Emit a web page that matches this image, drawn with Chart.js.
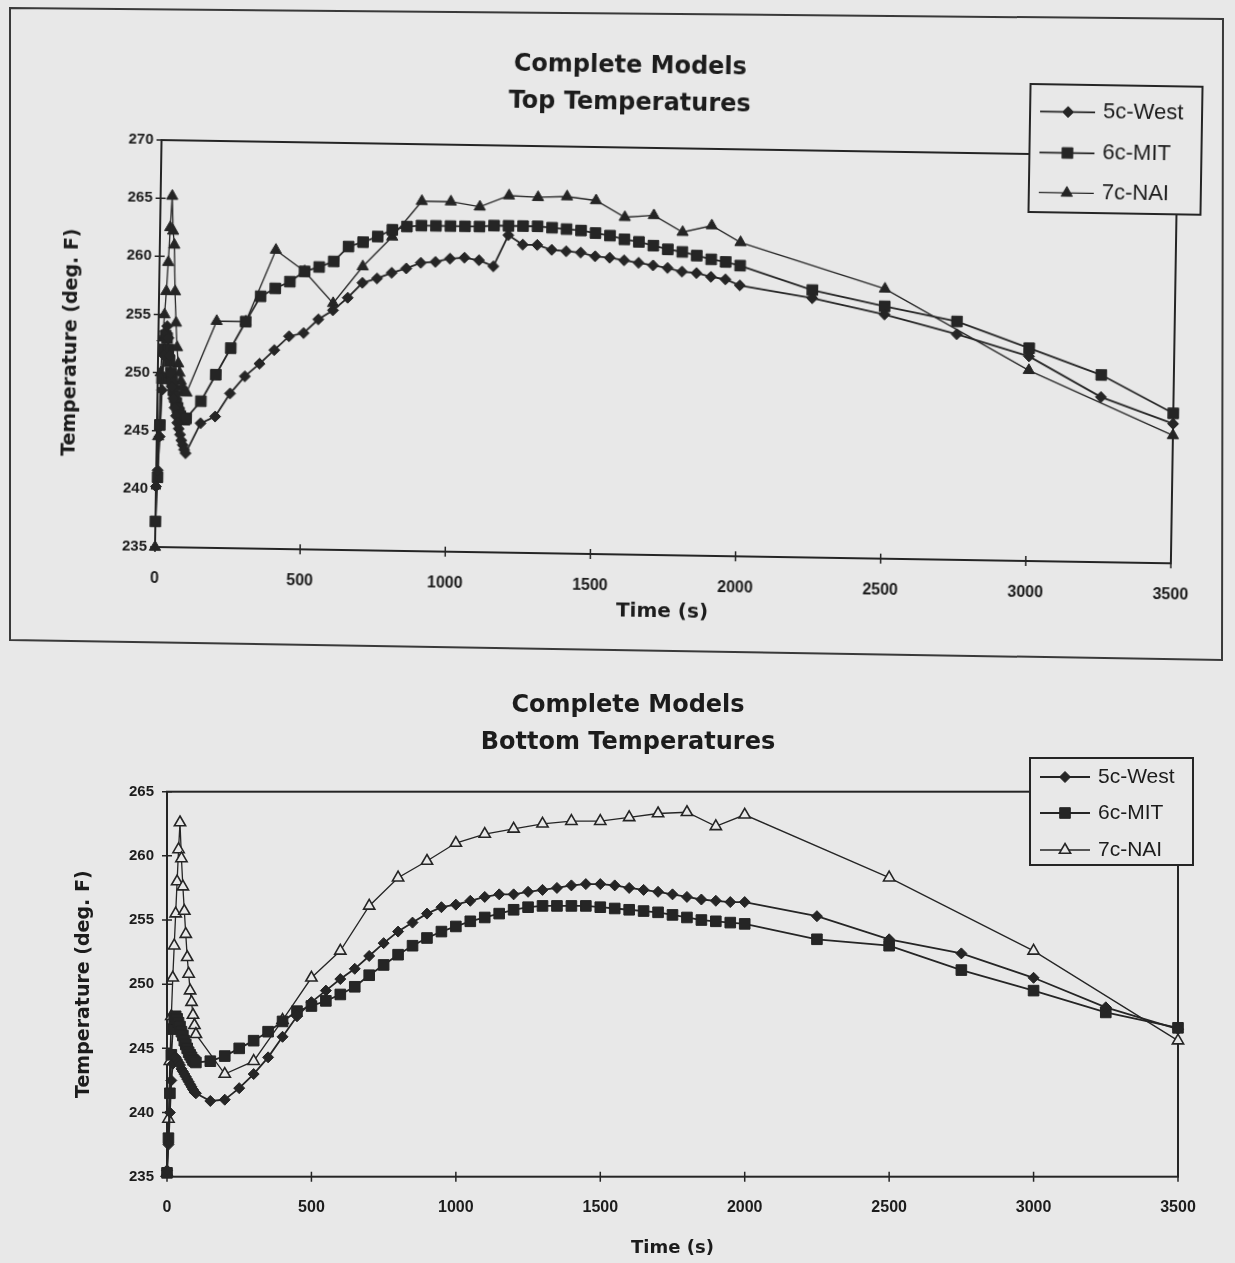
<!DOCTYPE html>
<html><head><meta charset="utf-8">
<script src="https://cdn.jsdelivr.net/npm/chart.js@4.4.1/dist/chart.umd.min.js"></script>
<style>
html,body{margin:0;padding:0;background:#e8e8e8;}
body{width:1235px;height:1263px;position:relative;overflow:hidden;}
#topWrap{position:absolute;left:10px;top:10px;width:1212px;height:638px;transform-origin:145px 537px;transform:rotate(0.92deg);}
#botWrap{position:absolute;left:0;top:660px;width:1235px;height:603px;}
svg.frame{position:absolute;left:0;top:0;}
</style></head><body>
<svg class="frame" width="1235" height="1263"><polygon points="10,8 1223,19 1222,660 10,640" fill="none" stroke="#3a3a3a" stroke-width="2"/></svg>
<div id="topWrap"><canvas id="topChart" width="1212" height="638"></canvas></div>
<div id="botWrap"><canvas id="botChart" width="1235" height="603"></canvas></div>
<script>
// ---------- DATA ----------
const seriesNames = ['5c-West', '6c-MIT', '7c-NAI'];
const xTicks = [0, 500, 1000, 1500, 2000, 2500, 3000, 3500];
const topYTicks = [235, 240, 245, 250, 255, 260, 265, 270];
const botYTicks = [235, 240, 245, 250, 255, 260, 265];

// time points (s) of 5c-West and 6c-MIT
const westMitTime = [0,5,10,15,20,25,30,35,40,45,50,55,60,65,70,75,80,85,90,95,
  100,150,200,250,300,350,400,450,500,550,600,650,700,750,800,850,900,950,1000,1050,
  1100,1150,1200,1250,1300,1350,1400,1450,1500,1550,1600,1650,1700,1750,1800,1850,1900,1950,2000,
  2250,2500,2750,3000,3250,3500];
// time points (s) of 7c-NAI
const naiTime = [0,5,10,15,20,25,30,35,40,45,50,55,60,65,70,75,80,85,90,95,
  100,200,300,400,500,600,700,800,900,1000,1100,1200,1300,1400,1500,1600,1700,1800,1900,2000,
  2500,3000,3500];

// Top temperatures (deg. F)
const topWest = [240.2,241.6,244.5,248.5,251.5,253.5,254.0,253.0,251.5,250.0,248.8,247.8,247.0,246.3,245.7,245.2,244.7,244.2,243.8,243.4,
  243.1,245.7,246.3,248.3,249.8,250.9,252.1,253.3,253.6,254.8,255.6,256.7,258.0,258.4,258.9,259.3,259.8,259.9,260.2,260.3,
  260.1,259.6,262.3,261.5,261.5,261.1,261.0,260.9,260.6,260.5,260.3,260.1,259.9,259.7,259.4,259.3,259.0,258.8,258.3,
  257.3,256.0,254.4,252.6,249.2,247.0];
const topMit = [237.2,241.0,245.5,249.5,252.0,253.2,253.0,252.0,251.0,250.0,249.2,248.5,247.9,247.4,247.0,246.6,246.3,246.1,246.0,246.0,
  246.1,247.6,249.9,252.2,254.5,256.7,257.4,258.0,258.9,259.3,259.8,261.1,261.5,262.0,262.6,262.9,263.0,263.0,263.0,263.0,
  263.0,263.1,263.1,263.1,263.1,263.0,262.9,262.8,262.6,262.4,262.1,261.9,261.6,261.3,261.1,260.8,260.5,260.3,260.0,
  258.0,256.7,255.5,253.3,251.1,247.9];
const topNai = [235.0,244.5,250.0,253.0,255.0,257.0,259.5,262.5,265.2,262.2,261.0,257.0,254.3,252.2,250.8,250.0,249.3,248.8,248.5,248.4,
  248.3,254.5,254.5,260.7,258.9,256.2,259.4,262.0,265.1,265.1,264.7,265.7,265.6,265.7,265.4,264.0,264.2,262.8,263.4,262.0,
  258.2,251.4,246.0];

// Bottom temperatures (deg. F)
const botWest = [235.5,237.5,240.0,242.5,243.8,244.3,244.3,244.1,243.9,243.7,243.4,243.2,243.0,242.8,242.6,242.4,242.2,242.0,241.8,241.6,
  241.5,240.9,241.0,241.9,243.0,244.3,245.9,247.5,248.6,249.5,250.4,251.2,252.2,253.2,254.1,254.8,255.5,256.0,256.2,256.5,
  256.8,257.0,257.0,257.2,257.35,257.5,257.7,257.8,257.8,257.7,257.5,257.35,257.2,257.0,256.8,256.6,256.5,256.4,256.4,
  255.3,253.5,252.4,250.5,248.2,246.5];
const botMit = [235.3,238.0,241.5,244.5,246.5,247.3,247.5,247.3,247.0,246.7,246.3,246.0,245.6,245.3,245.0,244.7,244.5,244.3,244.1,244.0,
  243.9,244.0,244.4,245.0,245.6,246.3,247.1,247.9,248.3,248.7,249.2,249.8,250.7,251.5,252.3,253.0,253.6,254.1,254.5,254.9,
  255.2,255.5,255.8,256.0,256.1,256.1,256.1,256.1,256.0,255.9,255.8,255.7,255.6,255.4,255.2,255.0,254.9,254.8,254.7,
  253.5,253.0,251.1,249.5,247.8,246.6];
const botNai = [235.3,239.5,244.0,247.5,250.5,253.0,255.5,258.0,260.5,262.6,259.8,257.6,255.7,253.9,252.1,250.8,249.5,248.6,247.6,246.8,
  246.1,243.0,244.0,247.2,250.5,252.6,256.1,258.3,259.6,261.0,261.7,262.1,262.5,262.7,262.7,263.0,263.3,263.4,262.3,263.2,
  258.3,252.6,245.6];

// ---------- STYLE ----------
const BG = '#e8e8e8';
const INK = '#252525';
const TXT = '#1c1c1c';

function pts(xs, ys) { return xs.map((x, i) => ({x: x, y: ys[i]})); }

const framePlugin = {
  id: 'frame',
  beforeDatasetsDraw(chart) {
    const {ctx, chartArea: a, scales} = chart;
    ctx.save();
    ctx.strokeStyle = INK; ctx.lineWidth = 2;
    ctx.strokeRect(a.left, a.top, a.right - a.left, a.bottom - a.top);
    ctx.lineWidth = 1.5;
    ctx.beginPath();
    scales.x.ticks.forEach(t => { const p = scales.x.getPixelForValue(t.value); ctx.moveTo(p, a.bottom - 5); ctx.lineTo(p, a.bottom + 5); });
    scales.y.ticks.forEach(t => { const p = scales.y.getPixelForValue(t.value); ctx.moveTo(a.left - 5, p); ctx.lineTo(a.left + 5, p); });
    ctx.stroke();
    ctx.restore();
  }
};

const boxLegend = {
  id: 'boxLegend',
  afterDraw(chart, args, o) {
    const ctx = chart.ctx;
    ctx.save();
    ctx.fillStyle = BG;
    ctx.fillRect(o.x, o.y, o.w, o.h);
    ctx.strokeStyle = INK; ctx.lineWidth = 2;
    ctx.strokeRect(o.x, o.y, o.w, o.h);
    chart.data.datasets.forEach((ds, i) => {
      const y = o.rows[i];
      ctx.beginPath();
      ctx.moveTo(o.l0, y); ctx.lineTo(o.l1, y);
      ctx.lineWidth = ds.borderWidth; ctx.strokeStyle = ds.borderColor; ctx.stroke();
      ctx.fillStyle = ds.pointBackgroundColor; ctx.strokeStyle = ds.pointBorderColor;
      ctx.lineWidth = ds.pointBorderWidth;
      Chart.helpers.drawPoint(ctx, {pointStyle: ds.pointStyle, radius: ds.pointRadius, borderWidth: ds.pointBorderWidth, rotation: 0}, o.mx, y);
      ctx.fillStyle = TXT;
      ctx.font = o.font + 'px "Liberation Sans", Arial, sans-serif';
      ctx.textBaseline = 'middle'; ctx.textAlign = 'left';
      ctx.fillText(ds.label, o.tx, y);
    });
    ctx.restore();
  }
};

function datasets(west, mit, nai, openTri) {
  return [
    {label: seriesNames[0], data: pts(westMitTime, west), borderColor: INK, borderWidth: 1.8,
     pointStyle: 'rectRot', pointRadius: 5.5, pointBackgroundColor: INK, pointBorderColor: INK, pointBorderWidth: 1, clip: false},
    {label: seriesNames[1], data: pts(westMitTime, mit), borderColor: INK, borderWidth: 1.8,
     pointStyle: 'rect', pointRadius: 7.5, pointBackgroundColor: INK, pointBorderColor: INK, pointBorderWidth: 1, clip: false},
    {label: seriesNames[2], data: pts(naiTime, nai), borderColor: INK, borderWidth: 1.3,
     pointStyle: 'triangle', pointRadius: 6.5, pointBackgroundColor: openTri ? BG : INK, pointBorderColor: INK, pointBorderWidth: openTri ? 1.6 : 1, clip: false}
  ];
}

function makeChart(id, p) {
  return new Chart(document.getElementById(id), {
    type: 'line',
    data: {datasets: datasets(p.west, p.mit, p.nai, p.openTri)},
    plugins: [framePlugin, boxLegend],
    options: {
      responsive: false, animation: false, devicePixelRatio: 1,
      layout: {padding: p.pad},
      plugins: {
        legend: {display: false},
        tooltip: {enabled: false},
        title: {display: true, text: p.title, color: TXT,
          font: {family: '"DejaVu Sans", sans-serif', weight: 'bold', size: 24, lineHeight: 37 / 24},
          padding: p.titlePad},
        boxLegend: p.legend
      },
      scales: {
        x: {type: 'linear', min: 0, max: 3500,
          afterBuildTicks: s => { s.ticks = xTicks.map(v => ({value: v})); },
          ticks: {padding: p.xTickPad, color: TXT, maxRotation: 0, callback: v => String(v),
            font: {family: '"Liberation Sans", Arial, sans-serif', size: 16, weight: 'bold'}},
          grid: {display: false, drawTicks: false}, border: {display: false},
          title: {display: true, text: 'Time (s)', color: TXT,
            font: {family: '"DejaVu Sans", sans-serif', weight: 'bold', size: p.xTitleSize},
            padding: {top: 0, bottom: p.xTitlePadB}},
          afterFit: s => { s.height = p.xH; }},
        y: {type: 'linear', min: p.yTicks[0], max: p.yTicks[p.yTicks.length - 1],
          afterBuildTicks: s => { s.ticks = p.yTicks.map(v => ({value: v})); },
          ticks: {padding: p.yTickPad, color: TXT, callback: v => String(v),
            font: {family: '"Liberation Sans", Arial, sans-serif', size: 15, weight: 'bold'}},
          grid: {display: false, drawTicks: false}, border: {display: false},
          title: {display: true, text: 'Temperature (deg. F)', color: TXT,
            font: {family: '"DejaVu Sans", sans-serif', weight: 'bold', size: 19},
            padding: {top: p.yTitlePadT, bottom: 0}},
          afterFit: s => { s.width = p.yW; }},
        yR: {type: 'linear', position: 'right', display: true,
          ticks: {display: false}, grid: {display: false, drawTicks: false}, border: {display: false},
          afterFit: s => { s.width = p.yRW; }}
      }
    }
  });
}

makeChart('topChart', {
  west: topWest, mit: topMit, nai: topNai, openTri: false,
  title: ['Complete Models', 'Top Temperatures'],
  pad: {left: 13, right: 0, top: 0, bottom: 22.1},
  titlePad: {top: 30, bottom: 26},
  xTickPad: 22, xTitleSize: 20, xTitlePadB: 10, xH: 78.9,
  yTicks: topYTicks, yTickPad: 8, yTitlePadT: 33.5, yW: 132, yRW: 51,
  legend: {x: 1013, y: 60, w: 172, h: 128, rows: [87.4, 128.4, 168.4], l0: 1023, l1: 1078, mx: 1051, tx: 1086, font: 22}
});

makeChart('botChart', {
  west: botWest, mit: botMit, nai: botNai, openTri: true,
  title: ['Complete Models', 'Bottom Temperatures'],
  pad: {left: 21, right: 0, top: 0, bottom: 0.2},
  titlePad: {top: 27.5, bottom: 30.2},
  xTickPad: 21, xTitleSize: 18, xTitlePadB: 4, xH: 86.1,
  yTicks: botYTicks, yTickPad: 13, yTitlePadT: 51.6, yW: 146, yRW: 57,
  legend: {x: 1030, y: 98, w: 163, h: 107, rows: [117, 153, 190], l0: 1040, l1: 1090, mx: 1065, tx: 1098, font: 21}
});
</script>
</body></html>
